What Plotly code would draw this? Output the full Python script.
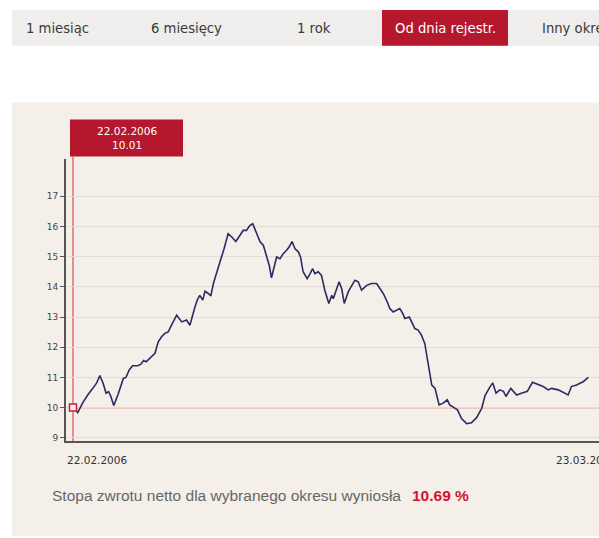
import plotly.graph_objects as go

# ---- data (days since registration 22.02.2006, unit value) ----
days = [0, 13, 26, 40, 54, 64, 73, 82, 90, 97, 103, 111, 122, 131, 137, 144, 153, 162, 176, 185,
        192, 199, 208, 218, 223, 232, 241, 250, 259, 268, 282, 296, 309, 318, 326, 332, 338, 345,
        353, 359, 368, 375, 382, 391, 400, 411, 422, 432, 443, 454, 463, 472, 481, 489, 501, 509,
        518, 527, 534, 540, 547, 554, 563, 572, 581, 588, 596, 604, 613, 619, 626, 637, 645, 652,
        658, 667, 676, 685, 696, 704, 708, 715, 724, 731, 738, 749, 758, 767, 776, 785, 799, 812,
        826, 835, 844, 855, 862, 871, 882, 889, 897, 903, 915, 921, 930, 939, 948, 957, 966, 971,
        976, 985, 991, 996, 1007, 1018, 1025, 1039, 1046, 1057, 1071, 1084, 1098, 1112, 1121, 1134,
        1142, 1151, 1161, 1171, 1178, 1191, 1198, 1207, 1220, 1236, 1250, 1265, 1279, 1293, 1302,
        1320, 1338, 1347, 1356, 1370, 1379, 1388, 1402]
values = [10.01, 9.84, 10.15, 10.42, 10.64, 10.81, 11.06, 10.81, 10.48, 10.53, 10.37, 10.07, 10.42,
          10.75, 10.97, 11.00, 11.25, 11.39, 11.39, 11.44, 11.56, 11.52, 11.63, 11.72, 11.80, 12.18,
          12.35, 12.46, 12.51, 12.73, 13.06, 12.84, 12.90, 12.73, 13.12, 13.34, 13.56, 13.72, 13.56,
          13.85, 13.78, 13.70, 14.11, 14.44, 14.83, 15.26, 15.76, 15.65, 15.50, 15.70, 15.87, 15.87,
          16.03, 16.09, 15.76, 15.49, 15.37, 15.04, 14.71, 14.30, 14.66, 14.99, 14.93, 15.10, 15.21,
          15.32, 15.50, 15.26, 15.16, 14.99, 14.50, 14.27, 14.44, 14.60, 14.44, 14.50, 14.38, 13.89,
          13.45, 13.72, 13.61, 13.89, 14.17, 13.94, 13.45, 13.84, 14.05, 14.22, 14.17, 13.89, 14.05,
          14.11, 14.11, 13.94, 13.78, 13.50, 13.28, 13.17, 13.23, 13.28, 13.12, 12.95, 13.00, 12.84,
          12.62, 12.57, 12.40, 12.13, 11.52, 11.08, 10.75, 10.64, 10.31, 10.09, 10.15, 10.26, 10.09,
          9.98, 9.93, 9.64, 9.47, 9.50, 9.67, 9.98, 10.40, 10.68, 10.82, 10.48, 10.59, 10.54, 10.37,
          10.64, 10.54, 10.42, 10.48, 10.54, 10.84, 10.77, 10.70, 10.59, 10.64, 10.59, 10.48, 10.42,
          10.70, 10.75, 10.81, 10.86, 11.00]

start_label = "22.02.2006"
end_label = "23.03.2010"
start_value = "10.01"
tabs = ["1 miesiąc", "6 miesięcy", "1 rok", "Od dnia rejestr.", "Inny okres"]
active_tab = "Od dnia rejestr."
y_ticks = [9, 10, 11, 12, 13, 14, 15, 16, 17]
return_text = "Stopa zwrotu netto dla wybranego okresu wyniosła"
return_value = "10.69 %"

W, H = 599, 538
def px(x):
    return x / W
def py(y):
    return 1 - y / H

RED = "#b5172d"
LINE_RED = "#e04a5c"

fig = go.Figure()
fig.add_trace(go.Scatter(x=days, y=values, mode="lines",
                         line=dict(color="#2b2b63", width=1.6), hoverinfo="skip"))
fig.add_trace(go.Scatter(x=[days[0]], y=[values[0]], mode="markers",
                         marker=dict(symbol="square", size=7, color="#f7f3ee",
                                     line=dict(color="#d0183a", width=1.5)), hoverinfo="skip"))

shapes = [
    dict(type="rect", xref="paper", yref="paper", x0=px(12), x1=1, y0=0, y1=py(103),
         fillcolor="#f4f0e9", line=dict(width=0), layer="below"),
    dict(type="rect", xref="paper", yref="paper", x0=px(12), x1=1, y0=py(46), y1=py(10),
         fillcolor="#efeeec", line=dict(width=0), layer="below"),
    dict(type="rect", xref="paper", yref="paper", x0=px(382), x1=px(508), y0=py(46), y1=py(10),
         fillcolor=RED, line=dict(width=0), layer="below"),
    dict(type="rect", xref="paper", yref="paper", x0=px(70), x1=px(183), y0=py(157), y1=py(120),
         fillcolor=RED, line=dict(width=0), layer="above"),
    dict(type="line", xref="x", yref="paper", x0=days[0], x1=days[0], y0=py(443), y1=py(157),
         line=dict(color=LINE_RED, width=1.2), layer="below"),
    dict(type="line", xref="x", yref="y", x0=days[0], x1=1431, y0=10, y1=10,
         line=dict(color=LINE_RED, width=1.2), layer="below"),
]

annotations = []
tab_pos = [57, 187, 314, 445, 540]
for t, xp in zip(tabs, tab_pos):
    annotations.append(dict(
        text=t, xref="paper", yref="paper", x=px(xp), y=py(29),
        xanchor="left" if t == tabs[-1] else "center", yanchor="middle", showarrow=False,
        font=dict(family="DejaVu Sans", size=13.2,
                  color="white" if t == active_tab else "#3a3a3a")))
annotations += [
    dict(text=start_label + "<br>" + start_value, xref="paper", yref="paper",
         x=px(126.5), y=py(138.5), xanchor="center", yanchor="middle", showarrow=False,
         font=dict(family="DejaVu Sans", size=10.5, color="white")),
    dict(text=start_label, xref="x", yref="paper", x=days[0], y=py(462), xshift=-8,
         xanchor="left", yanchor="middle", showarrow=False,
         font=dict(family="DejaVu Sans", size=10.5, color="#333")),
    dict(text=end_label, xref="paper", yref="paper", x=px(554), y=py(462),
         xanchor="left", yanchor="middle", showarrow=False,
         font=dict(family="DejaVu Sans", size=10.5, color="#333")),
    dict(text=return_text, xref="paper", yref="paper", x=px(50), y=py(497),
         xanchor="left", yanchor="middle", showarrow=False,
         font=dict(family="Liberation Sans", size=15.5, color="#666")),
    dict(text="<b>" + return_value + "</b>", xref="paper", yref="paper", x=px(410), y=py(497),
         xanchor="left", yanchor="middle", showarrow=False,
         font=dict(family="Liberation Sans", size=15.5, color="#d6112e")),
]

fig.update_layout(
    width=W, height=H, margin=dict(l=0, r=0, t=0, b=0),
    paper_bgcolor="white", plot_bgcolor="rgba(0,0,0,0)",
    showlegend=False, shapes=shapes, annotations=annotations,
    xaxis=dict(domain=[px(66), 1], range=[-19, 1431], showgrid=False, zeroline=False,
               showticklabels=False, ticks="", showline=True, linecolor="#555", linewidth=2,
               fixedrange=True),
    yaxis=dict(domain=[py(443), py(160)], range=[8.885, 18.22], tickvals=y_ticks,
               showgrid=True, gridcolor="#e2ddd4", gridwidth=1, zeroline=False,
               showline=True, linecolor="#555", linewidth=2, ticks="outside", ticklen=4,
               tickcolor="#555", tickfont=dict(family="DejaVu Sans", size=9, color="#444"),
               fixedrange=True),
)

fig.write_html("out.html", config={"displayModeBar": False},
               post_script="document.body.style.margin='0';document.body.style.overflow='hidden';")
